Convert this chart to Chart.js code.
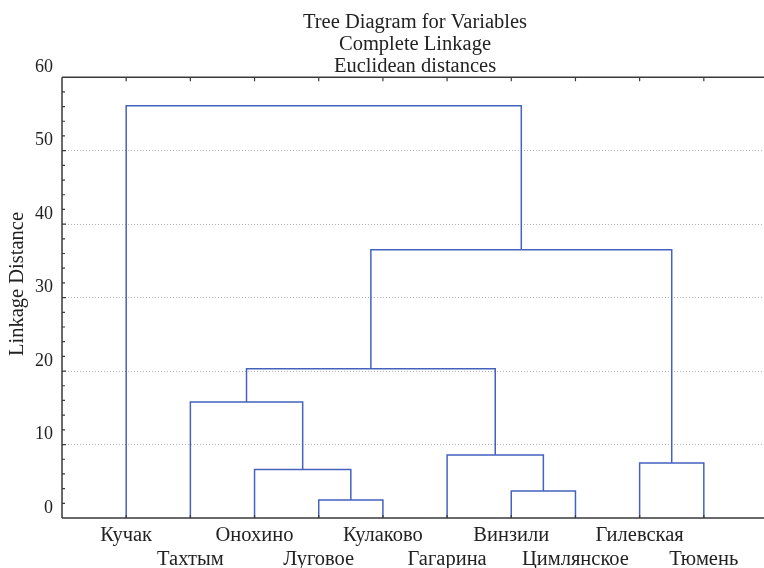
<!DOCTYPE html>
<html>
<head>
<meta charset="utf-8">
<script src="https://cdn.jsdelivr.net/npm/chart.js@4.4.1/dist/chart.umd.min.js"></script>
<style>
  html, body { margin: 0; padding: 0; background: #fff; overflow: hidden; }
  #wrap { width: 768px; height: 568px; position: relative; }
</style>
</head>
<body>
<div id="wrap"><canvas id="myChart"></canvas></div>
<script>
// leaves in the order they sit on the axis
const leaves = ['Кучак', 'Тахтым', 'Онохино', 'Луговое', 'Кулаково',
                'Гагарина', 'Винзили', 'Цимлянское', 'Гилевская', 'Тюмень'];

// merges: node ids 0..9 are leaves, 10.. are merges in this order
const mergeA = [3, 6, 2, 8, 5, 1, 15, 16, 0];
const mergeB = [4, 7, 10, 9, 11, 12, 14, 13, 17];
const mergeDist = [2.45, 3.67, 6.6, 7.5, 8.57, 15.8, 20.3, 36.5, 56.1];

const yTicks = [0, 10, 20, 30, 40, 50, 60];
const titleLines = ['Tree Diagram for Variables', 'Complete Linkage', 'Euclidean distances'];
const yTitle = 'Linkage Distance';

const FONT = "'Liberation Serif', 'Times New Roman', serif";
const LINE = 'rgb(68, 98, 190)';
const AXIS = '#3a3a3a';

// position of every node (leaf at 1..n, merge at the middle of its children)
const nodeX = leaves.map((e, i) => i + 1);
const nodeY = leaves.map(() => 0);
mergeDist.forEach((d, k) => {
    nodeX.push((nodeX[mergeA[k]] + nodeX[mergeB[k]]) / 2);
    nodeY.push(d);
});

const datasets = mergeDist.map((d, k) => {
    const a = mergeA[k], b = mergeB[k];
    return {
        data: [
            {x: nodeX[a], y: nodeY[a]},
            {x: nodeX[a], y: d},
            {x: nodeX[b], y: d},
            {x: nodeX[b], y: nodeY[b]}
        ],
        showLine: true,
        borderColor: LINE,
        borderWidth: 1.5,
        pointRadius: 0,
        fill: false,
        tension: 0
    };
});

// frame, inward tick marks and the vertical axis title
const frameTicks = {
    id: 'frameTicks',
    afterDraw(chart) {
        const ctx = chart.ctx;
        const a = chart.chartArea;
        const xs = chart.scales.x, ys = chart.scales.y;
        ctx.save();
        ctx.strokeStyle = AXIS;
        ctx.lineWidth = 1.5;
        ctx.beginPath();
        ctx.moveTo(a.left, a.top); ctx.lineTo(a.right, a.top);
        ctx.moveTo(a.left, a.bottom); ctx.lineTo(a.right, a.bottom);
        ctx.moveTo(a.left, a.top); ctx.lineTo(a.left, a.bottom);
        ctx.stroke();
        ctx.lineWidth = 1.2;
        ctx.beginPath();
        leaves.forEach((e, i) => {
            const px = xs.getPixelForValue(i + 1);
            ctx.moveTo(px, a.top); ctx.lineTo(px, a.top + 4);
            ctx.moveTo(px, a.bottom); ctx.lineTo(px, a.bottom - 3);
        });
        for (let v = 2; v < 60; v += 2) {
            const py = ys.getPixelForValue(v);
            ctx.moveTo(a.left, py); ctx.lineTo(a.left + (v % 10 === 0 ? 4 : 3), py);
        }
        ctx.stroke();

        // axis title is centred on the whole picture height, not the plot
        ctx.translate(17.5, chart.height / 2);
        ctx.rotate(-Math.PI / 2);
        ctx.fillStyle = '#222';
        ctx.font = '20.5px ' + FONT;
        ctx.textAlign = 'center';
        ctx.textBaseline = 'middle';
        ctx.fillText(yTitle, 0, 0);
        ctx.restore();
    }
};

const config = {
    type: 'scatter',
    data: {datasets: datasets},
    options: {
        responsive: true,
        maintainAspectRatio: false,
        animation: false,
        layout: {padding: {left: 0, right: 0, top: 0, bottom: 0}},
        plugins: {
            legend: {display: false},
            tooltip: {enabled: false},
            title: {
                display: true,
                fullSize: false,
                text: titleLines,
                color: '#222',
                font: {family: FONT, size: 20.5, weight: 'normal', lineHeight: 1.06},
                padding: {top: 12, bottom: 0}
            }
        },
        scales: {
            x: {
                type: 'linear',
                min: 0,
                max: 11,
                afterBuildTicks: (s) => { s.ticks = leaves.map((e, i) => ({value: i + 1})); },
                afterFit: (s) => { s.height = 50; },
                grid: {display: false, drawTicks: false},
                border: {display: false},
                ticks: {
                    autoSkip: false,
                    maxRotation: 0,
                    padding: 6,
                    color: '#222',
                    font: {family: FONT, size: 20.5, lineHeight: 1.15},
                    callback: (v) => {
                        const i = Math.round(v) - 1;
                        return i % 2 === 0 ? leaves[i] : ['', leaves[i]];
                    }
                }
            },
            y: {
                min: 0,
                max: 60,
                afterBuildTicks: (s) => { s.ticks = yTicks.map((v) => ({value: v})); },
                afterFit: (s) => { s.width = 62; },
                grid: {
                    drawTicks: false,
                    color: (c) => (c.tick && (c.tick.value === 0 || c.tick.value === 60)) ? 'rgba(0,0,0,0)' : '#b4b4b4',
                    lineWidth: 1
                },
                border: {display: false, dash: [1, 2]},
                ticks: {
                    padding: 9,
                    labelOffset: -10,
                    color: '#222',
                    font: {family: FONT, size: 18}
                },
                title: {display: false}
            }
        }
    },
    plugins: [frameTicks]
};

var myChart = new Chart(document.getElementById('myChart'), config);
</script>
</body>
</html>
